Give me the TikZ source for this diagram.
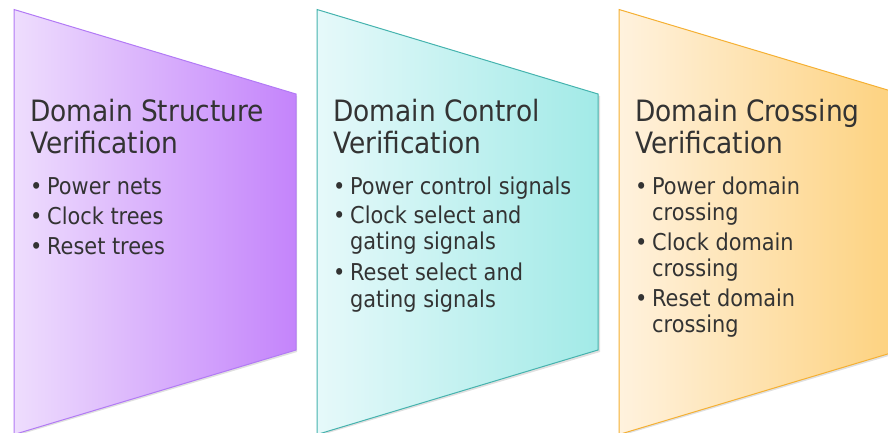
\documentclass[tikz,border=0pt]{standalone}
\usepackage{fontspec}
\setmainfont{DejaVu Sans Condensed}
\definecolor{txt}{HTML}{333333}
\definecolor{pL}{HTML}{EEDDFD}
\definecolor{pR}{HTML}{C484FB}
\definecolor{pB}{HTML}{B27AF5}
\definecolor{tL}{HTML}{E6F9FA}
\definecolor{tR}{HTML}{A2EAE7}
\definecolor{tB}{HTML}{45B3AE}
\definecolor{oL}{HTML}{FFF2DE}
\definecolor{oR}{HTML}{FDD17D}
\definecolor{oB}{HTML}{F5B033}
\tikzset{
  titletext/.style={anchor=base west, align=left, text=txt, inner sep=0pt,
    font=\fontsize{29.4}{32}\selectfont},
  itemtext/.style={anchor=base west, align=left, text=txt, inner sep=0pt,
    font=\fontsize{23.2}{26.5}\selectfont},
  shadowshape/.style={fill=black, opacity=0.12},
}
\newcommand{\bul}{\makebox[17pt][l]{\textbullet}}
\newcommand{\ind}{\hspace*{17pt}}
\begin{document}
\begin{tikzpicture}[x=1pt,y=-1pt]
\useasboundingbox (0,0) rectangle (888,433);
\begin{scope}
\clip (0,0) rectangle (888,433);
% shadows
\fill[shadowshape] (15,11) -- (297,96) -- (297,352) -- (15,436) -- cycle;
\fill[shadowshape] (318,11) -- (600,96) -- (600,352) -- (318,436) -- cycle;
\fill[shadowshape] (620,11) -- (902,96) -- (902,352) -- (620,436) -- cycle;
% shapes
\shade[left color=pL, right color=pR, draw=pB, line width=1pt]
  (14,9.5) -- (296,94) -- (296,350) -- (14,434.5) -- cycle;
\shade[left color=tL, right color=tR, draw=tB, line width=1pt]
  (317,9.5) -- (598,94) -- (598,350) -- (317,434.5) -- cycle;
\shade[left color=oL, right color=oR, draw=oB, line width=1pt]
  (619,9.5) -- (901,94) -- (901,350) -- (619,434.5) -- cycle;
\end{scope}
% column 1 (base anchor = baseline of last line)
\node[titletext] (t1) at (30,153) {Domain Structure\\Verification};
\node[itemtext] (a1) at (30,194) {\bul Power nets};
\node[itemtext] (a2) at (30,224) {\bul Clock trees};
\node[itemtext] (a3) at (30,254) {\bul Reset trees};
% column 2
\node[titletext] (t2) at (333,153) {Domain Control\\Verification};
\node[itemtext] (b1) at (333,194) {\bul Power control signals};
\node[itemtext] (b2) at (333,249.5) {\bul Clock select and\\\ind gating signals};
\node[itemtext] (b3) at (333,307) {\bul Reset select and\\\ind gating signals};
% column 3
\node[titletext] (t3) at (635,153) {Domain Crossing\\Verification};
\node[itemtext] (c1) at (635,220.5) {\bul Power domain\\\ind crossing};
\node[itemtext] (c2) at (635,276.5) {\bul Clock domain\\\ind crossing};
\node[itemtext] (c3) at (635,332.5) {\bul Reset domain\\\ind crossing};
\end{tikzpicture}
\end{document}
